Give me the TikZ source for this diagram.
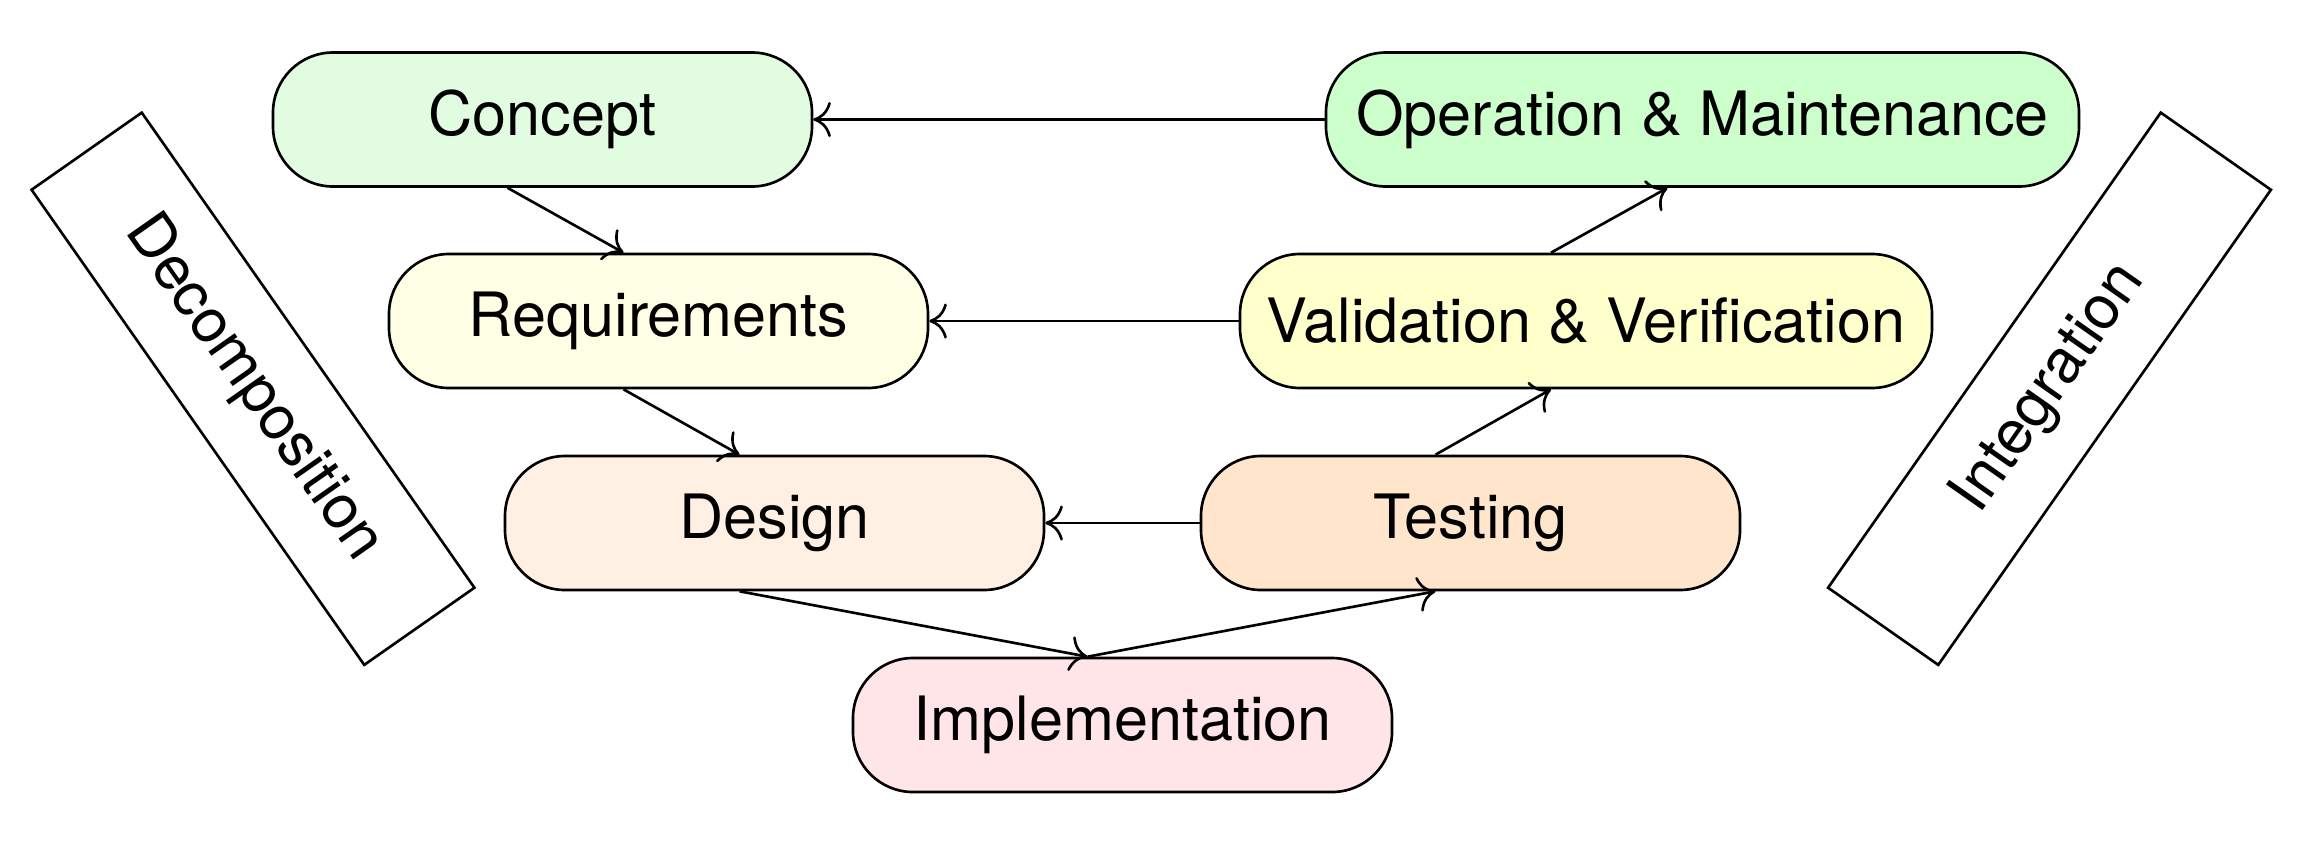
\documentclass[tikz,border=0pt]{standalone}
\usepackage{fontspec}
\setmainfont{TeX Gyre Heros}
\usetikzlibrary{arrows.meta}
\definecolor{cConcept}{HTML}{E2FCE2}
\definecolor{cOM}{HTML}{CCFFCC}
\definecolor{cReq}{HTML}{FFFFE6}
\definecolor{cVV}{HTML}{FFFFCC}
\definecolor{cDesign}{HTML}{FFF0E3}
\definecolor{cTest}{HTML}{FFE5CC}
\definecolor{cImpl}{HTML}{FFE4E8}
\tikzset{
  phase/.style={draw=black, line width=0.75pt, rounded corners=0.6cm,
    minimum width=5.39cm, minimum height=1.34cm, inner sep=0pt,
    font=\fontsize{17.4}{21}\selectfont},
  sidebox/.style={draw=black, line width=0.75pt, fill=white,
    minimum width=5.80cm, minimum height=1.345cm, inner sep=0pt,
    font=\fontsize{17.4}{21}\selectfont},
  flow/.style={line width=0.75pt, -{To[length=5pt,width=10pt]}}
}
\begin{document}
\begin{tikzpicture}
\useasboundingbox (0,0) rectangle (23.02,8.59);
\node[phase, fill=cConcept] (concept) at (5.425,7.395) {Concept};
\node[phase, fill=cOM, minimum width=7.53cm] (om) at (17.025,7.395) {Operation \& Maintenance};
\node[phase, fill=cReq] (req) at (6.585,5.38) {Requirements};
\node[phase, fill=cVV, minimum width=6.92cm] (vv) at (15.86,5.38) {Validation \& Verification};
\node[phase, fill=cDesign] (design) at (7.745,3.36) {Design};
\node[phase, fill=cTest] (test) at (14.705,3.36) {Testing};
\node[phase, fill=cImpl] (impl) at (11.225,1.34) {Implementation};

\node[sidebox, rotate=-55] (decomp) at (2.53,4.7025) {Decomposition};
\node[sidebox, rotate=55] (integ) at (20.495,4.7025) {Integration};

\draw[flow] (om.west) -- (concept.east);
\draw[flow] (vv.west) -- (req.east);
\draw[flow] (test.west) -- (design.east);

\draw[flow] ([xshift=-0.35cm]concept.south) -- ([xshift=-0.35cm]req.north);
\draw[flow] ([xshift=-0.35cm]req.south) -- ([xshift=-0.35cm]design.north);
\draw[flow] ([xshift=-0.35cm]design.south) -- ([xshift=-0.35cm]impl.north);
\draw[flow] ([xshift=-0.35cm]impl.north) -- ([xshift=-0.35cm]test.south);
\draw[flow] ([xshift=-0.35cm]test.north) -- ([xshift=-0.35cm]vv.south);
\draw[flow] ([xshift=-0.35cm]vv.north) -- ([xshift=-0.35cm]om.south);
\end{tikzpicture}
\end{document}
